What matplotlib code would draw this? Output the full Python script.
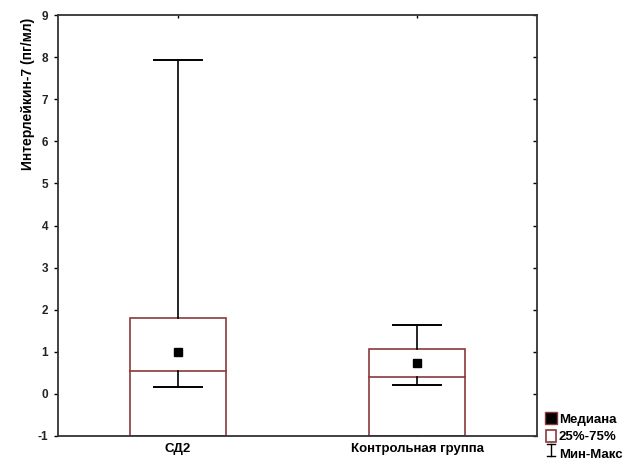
import matplotlib
matplotlib.use("Agg")
import matplotlib.pyplot as plt
from matplotlib.patches import Rectangle
from matplotlib.lines import Line2D
from matplotlib.legend_handler import HandlerBase

plt.rcParams['font.family'] = ['Liberation Sans', 'DejaVu Sans']
plt.rcParams['axes.unicode_minus'] = False

groups = ['СД2', 'Контрольная группа']
medians = [1.0, 0.73]
q1 = [0.55, 0.41]
q3 = [1.8, 1.07]
mins = [0.16, 0.21]
maxs = [7.93, 1.64]

box_col = '#8b3a3a'
ymin, ymax = -1, 9


class MinMaxHandler(HandlerBase):
    # draws a small I-beam symbol for the min-max legend entry
    def create_artists(self, legend, orig, xd, yd, w, h, fs, trans):
        cx = xd + w / 2
        top, bot = yd + h, yd
        c = 0.35 * w
        return [Line2D([cx, cx], [bot, top], color='black', lw=1, transform=trans),
                Line2D([cx - c, cx + c], [top, top], color='black', lw=1, transform=trans),
                Line2D([cx - c, cx + c], [bot, bot], color='black', lw=1, transform=trans)]


fig = plt.figure(figsize=(6.29, 4.62), dpi=100)
ax = fig.add_axes([0.0922, 0.0563, 0.7615, 0.9112])

bw = 0.4
cw = 0.2
for i in range(len(groups)):
    # box: outline runs down to the bottom of the axis, line at lower quartile
    ax.add_patch(Rectangle((i - bw / 2, ymin), bw, q3[i] - ymin,
                           facecolor='white', edgecolor=box_col, lw=1.2, zorder=2))
    ax.plot([i - bw / 2, i + bw / 2], [q1[i], q1[i]], color=box_col, lw=1.2, zorder=3)
    # whiskers
    ax.plot([i, i], [q3[i], maxs[i]], color='black', lw=1.2, zorder=3)
    ax.plot([i, i], [mins[i], q1[i]], color='black', lw=1.2, zorder=3)
    ax.plot([i - cw / 2, i + cw / 2], [maxs[i], maxs[i]], color='black', lw=1.4, zorder=3)
    ax.plot([i - cw / 2, i + cw / 2], [mins[i], mins[i]], color='black', lw=1.4, zorder=3)
    ax.plot(i, medians[i], marker='s', ms=5.5, color='black', zorder=4)

ax.set_xlim(-0.5, 1.5)
ax.set_ylim(ymin, ymax)
ax.set_yticks(range(ymin, ymax + 1))
ax.set_xticks(range(len(groups)))
ax.set_xticklabels(groups, fontweight='bold', fontsize=9.5)
ax.tick_params(axis='x', direction='in', length=2, width=1, top=True, pad=5)
ax.tick_params(axis='y', direction='out', length=3, width=1, labelsize=8.5, pad=4)
ax.tick_params(axis='y', which='both', right=True)
for t in ax.get_yticklabels():
    t.set_fontweight('bold')
    t.set_color('#222222')
for tk in ax.yaxis.get_major_ticks():
    tk.tick2line.set_marker(0)  # right-side ticks point inward
    tk.tick2line.set_markersize(3)
for sp in ax.spines.values():
    sp.set_linewidth(1.3)
    sp.set_color('#333333')

fig.text(0.044, 1 - 94 / 462, 'Интерлейкин-7 (пг/мл)', rotation=90,
         ha='center', va='center', fontsize=10, fontweight='bold')

handles = [Line2D([], [], marker='s', ms=8, color='black', mec=box_col, ls='none'),
           Rectangle((0, 0), 1, 1, facecolor='white', edgecolor=box_col, lw=1.2),
           Line2D([], [])]
labels = ['Медиана', '25%-75%', 'Мин-Макс']
fig.legend(handles, labels, loc='lower left', bbox_to_anchor=(0.855, -0.014),
           frameon=False, handlelength=0.8, handleheight=1.0,
           handletextpad=0.2, labelspacing=0.3, borderpad=0.1,
           handler_map={handles[2]: MinMaxHandler()},
           prop={'weight': 'bold', 'size': 9.5})

fig.savefig('out.png', dpi=100)
